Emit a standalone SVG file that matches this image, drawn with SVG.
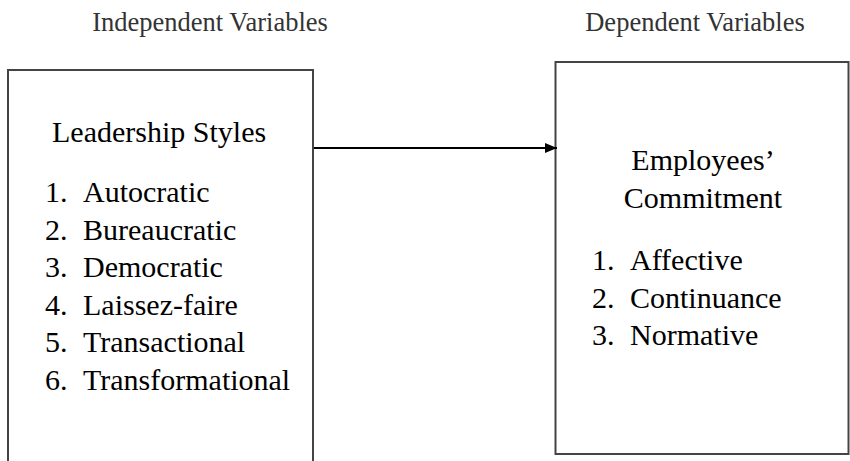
<svg xmlns="http://www.w3.org/2000/svg" width="850" height="461" viewBox="0 0 850 461">
<style>
.box{fill:#fff;stroke:#444;stroke-width:2}
.hd{font-family:"Liberation Serif",serif;font-size:26.5px;fill:#333}
.t{font-family:"Liberation Serif",serif;font-size:30px;fill:#000}
</style>
<defs>
<marker id="ah" markerWidth="12" markerHeight="10" refX="12" refY="5" orient="auto" markerUnits="userSpaceOnUse">
<path d="M0,0 L12,5 L0,10 Z" fill="#000"/>
</marker>
</defs>
<rect width="850" height="461" fill="#fff"/>
<text class="hd" x="210" y="31" text-anchor="middle">Independent Variables</text>
<text class="hd" x="695" y="31" text-anchor="middle">Dependent Variables</text>
<g id="leadership">
<rect class="box" x="8" y="70" width="305" height="400"/>
<text class="t" x="52" y="142">Leadership Styles</text>
<text class="t" x="45" y="202">1.</text><text class="t" x="83" y="202">Autocratic</text>
<text class="t" x="45" y="239.5">2.</text><text class="t" x="83" y="239.5">Bureaucratic</text>
<text class="t" x="45" y="277">3.</text><text class="t" x="83" y="277">Democratic</text>
<text class="t" x="45" y="314.5">4.</text><text class="t" x="83" y="314.5">Laissez-faire</text>
<text class="t" x="45" y="352">5.</text><text class="t" x="83" y="352">Transactional</text>
<text class="t" x="45" y="390">6.</text><text class="t" x="83" y="390">Transformational</text>
</g>
<g id="commitment">
<rect class="box" x="555.5" y="62" width="293" height="392"/>
<text class="t" x="703" y="170" text-anchor="middle">Employees’</text>
<text class="t" x="703" y="208" text-anchor="middle">Commitment</text>
<text class="t" x="592" y="270">1.</text><text class="t" x="630" y="270">Affective</text>
<text class="t" x="592" y="307.5">2.</text><text class="t" x="630" y="307.5">Continuance</text>
<text class="t" x="592" y="345">3.</text><text class="t" x="630" y="345">Normative</text>
</g>
<g id="connectors">
<line x1="314" y1="148" x2="557" y2="148" stroke="#000" stroke-width="2" marker-end="url(#ah)"/>
</g>
</svg>
